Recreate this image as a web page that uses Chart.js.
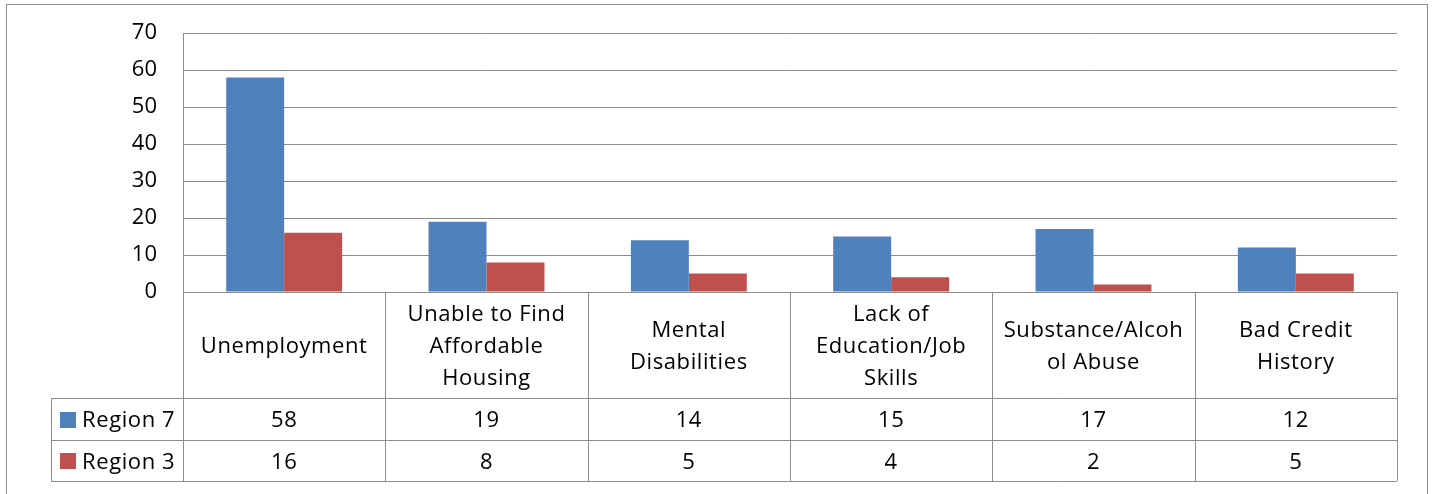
<!DOCTYPE html>
<html>
<head>
<meta charset="utf-8">
<script src="https://cdn.jsdelivr.net/npm/chart.js@4/dist/chart.umd.min.js"></script>
<style>
  html, body { margin: 0; padding: 0; background: #fff; }
  #wrap { width: 1434px; height: 494px; }
</style>
</head>
<body>
<div id="wrap"><canvas id="barChart"></canvas></div>
<script>
// Categories as shown in the data table (lines as wrapped in the original)
const categories = [
  ["Unemployment"],
  ["Unable to Find", "Affordable", "Housing"],
  ["Mental", "Disabilities"],
  ["Lack of", "Education/Job", "Skills"],
  ["Substance/Alcoh", "ol Abuse"],
  ["Bad Credit", "History"]
];

const seriesNames = ["Region 7", "Region 3"];
const region7 = [58, 19, 14, 15, 17, 12];
const region3 = [16, 8, 5, 4, 2, 5];
const seriesColors = ["#4F81BD", "#C0504D"];

const yTicks = [0, 10, 20, 30, 40, 50, 60, 70];

const FONT = "'Open Sans', Lato, sans-serif";
const FONT_SIZE = 22;
const lineColor = "#8C8C8C";

// Draws the outer frame and the data table under the plot
const dataTablePlugin = {
  id: "dataTable",
  afterDraw(chart) {
    const ctx = chart.ctx;
    const area = chart.chartArea;
    const n = categories.length;
    const colW = (area.right - area.left) / n;
    const headTop = area.bottom;
    const headBottom = 398;
    const rowH = 41.5;
    const legendLeft = 51;
    const tableBottom = headBottom + rowH * seriesNames.length;
    const textNudge = 2; // canvas "middle" sits a bit high vs the original

    ctx.save();
    ctx.strokeStyle = lineColor;
    ctx.lineWidth = 1;

    // outer frame
    ctx.strokeRect(6.5, 4.5, 1421, 520);

    ctx.beginPath();
    // horizontal lines
    ctx.moveTo(area.left, headTop + 0.5);
    ctx.lineTo(area.right, headTop + 0.5);
    for (let r = 0; r <= seriesNames.length; r++) {
      const y = Math.round(headBottom + rowH * r) + 0.5;
      ctx.moveTo(legendLeft, y);
      ctx.lineTo(area.right, y);
    }
    // vertical lines
    for (let c = 0; c <= n; c++) {
      const x = Math.round(area.left + colW * c) + 0.5;
      ctx.moveTo(x, headTop);
      ctx.lineTo(x, tableBottom);
    }
    ctx.moveTo(legendLeft + 0.5, headBottom);
    ctx.lineTo(legendLeft + 0.5, tableBottom);
    ctx.stroke();

    ctx.fillStyle = "#000";
    ctx.font = FONT_SIZE + "px " + FONT;
    ctx.letterSpacing = "0.6px";
    ctx.textAlign = "center";
    ctx.textBaseline = "middle";

    // category header
    const headMid = (headTop + headBottom) / 2 + textNudge;
    const lineH = 32;
    categories.forEach((lines, i) => {
      const cx = area.left + colW * (i + 0.5);
      const y0 = headMid - (lines.length - 1) * lineH / 2;
      lines.forEach((t, k) => ctx.fillText(t, cx, y0 + k * lineH));
    });

    // value rows
    const rows = [region7, region3];
    rows.forEach((vals, r) => {
      const cy = headBottom + rowH * (r + 0.5);
      ctx.textAlign = "center";
      vals.forEach((v, i) => {
        ctx.fillText(String(v), area.left + colW * (i + 0.5), cy + textNudge);
      });
      // legend key + series name
      ctx.fillStyle = seriesColors[r];
      ctx.fillRect(60, Math.round(cy - 7), 16, 16);
      ctx.fillStyle = "#000";
      ctx.textAlign = "left";
      ctx.fillText(seriesNames[r], 82, cy + textNudge);
    });
    ctx.restore();
  }
};

const ctx = document.getElementById("barChart").getContext("2d");

new Chart(ctx, {
  type: "bar",
  data: {
    labels: categories.map((c) => c.join(" ")),
    datasets: [
      {
        label: seriesNames[0],
        data: region7,
        backgroundColor: seriesColors[0],
        borderWidth: 0,
        categoryPercentage: 0.573,
        barPercentage: 1.0
      },
      {
        label: seriesNames[1],
        data: region3,
        backgroundColor: seriesColors[1],
        borderWidth: 0,
        categoryPercentage: 0.573,
        barPercentage: 1.0
      }
    ]
  },
  options: {
    responsive: true,
    maintainAspectRatio: false,
    animation: false,
    layout: {
      padding: { left: 0, top: 33, right: 37, bottom: 202 }
    },
    plugins: {
      legend: { display: false },
      tooltip: { enabled: false },
      title: { display: false }
    },
    scales: {
      x: {
        display: false
      },
      y: {
        min: yTicks[0],
        max: yTicks[yTicks.length - 1],
        afterFit: (scale) => {
          scale.width = 183;
          scale.paddingTop = 0;
          scale.paddingBottom = 0;
        },
        afterBuildTicks: (scale) => {
          scale.ticks = yTicks.map((v) => ({ value: v }));
        },
        border: { display: true, color: lineColor, width: 1 },
        grid: {
          color: lineColor,
          lineWidth: 1,
          drawTicks: false
        },
        ticks: {
          padding: 26,
          color: "#000",
          font: { family: FONT, size: FONT_SIZE }
        }
      }
    }
  },
  plugins: [dataTablePlugin]
});
</script>
</body>
</html>
